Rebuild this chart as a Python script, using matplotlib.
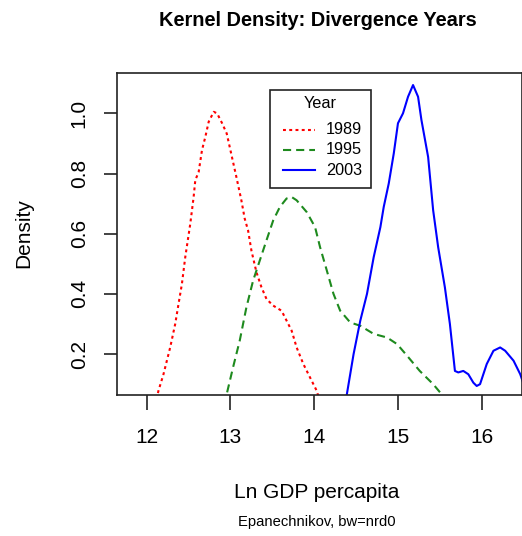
import matplotlib
matplotlib.use("Agg")
import matplotlib.pyplot as plt
from matplotlib.lines import Line2D
from matplotlib.patches import Rectangle

plt.rcParams['font.family'] = ['Liberation Sans', 'DejaVu Sans']

# Kernel density estimates of ln GDP per capita for three years
years = ["1989", "1995", "2003"]

x_1989 = [12.10, 12.14, 12.20, 12.28, 12.34, 12.38, 12.42, 12.46, 12.52, 12.56,
          12.58, 12.62, 12.66, 12.70, 12.74, 12.80, 12.84, 12.90, 12.955, 12.995,
          13.07, 13.13, 13.17, 13.21, 13.25, 13.31, 13.37, 13.43, 13.51, 13.61,
          13.67, 13.73, 13.79, 13.87, 13.97, 14.03, 14.07]
y_1989 = [0.03, 0.078, 0.133, 0.222, 0.30, 0.367, 0.433, 0.522, 0.633, 0.722,
          0.778, 0.805, 0.878, 0.922, 0.972, 1.005, 1.0, 0.967, 0.933, 0.883,
          0.789, 0.711, 0.65, 0.611, 0.544, 0.472, 0.422, 0.383, 0.361, 0.344,
          0.311, 0.278, 0.222, 0.167, 0.111, 0.078, 0.04]

x_1995 = [12.93, 12.955, 13.03, 13.11, 13.19, 13.27, 13.35, 13.43, 13.51, 13.59,
          13.67, 13.73, 13.79, 13.91, 14.01, 14.07, 14.15, 14.23, 14.31, 14.43,
          14.55, 14.71, 14.87, 14.99, 15.11, 15.26, 15.42, 15.52, 15.56]
y_1995 = [0.03, 0.067, 0.155, 0.244, 0.355, 0.444, 0.511, 0.578, 0.644, 0.689,
          0.717, 0.722, 0.711, 0.672, 0.622, 0.555, 0.478, 0.40, 0.344, 0.305,
          0.294, 0.267, 0.255, 0.233, 0.194, 0.144, 0.10, 0.067, 0.04]

x_2003 = [14.37, 14.39, 14.47, 14.55, 14.63, 14.71, 14.79, 14.83, 14.89, 14.95,
          15.00, 15.02, 15.06, 15.12, 15.18, 15.24, 15.28, 15.36, 15.42, 15.48,
          15.56, 15.62, 15.68, 15.72, 15.78, 15.84, 15.90, 15.94, 15.98, 16.06,
          16.14, 16.22, 16.28, 16.38, 16.46, 16.50]
y_2003 = [0.03, 0.067, 0.20, 0.311, 0.40, 0.522, 0.622, 0.689, 0.767, 0.867,
          0.967, 0.978, 1.0, 1.055, 1.094, 1.055, 0.978, 0.855, 0.678, 0.555,
          0.422, 0.30, 0.144, 0.139, 0.144, 0.133, 0.105, 0.094, 0.10, 0.167,
          0.211, 0.222, 0.211, 0.178, 0.133, 0.10]

x_ticks = [12, 13, 14, 15, 16]
y_ticks = [0.2, 0.4, 0.6, 0.8, 1.0]

styles = [
    dict(color="#FF0000", linestyle=(0, (1.4, 1.6)), linewidth=1.5),
    dict(color="#1E8A1E", linestyle=(0, (3.9, 2.4)), linewidth=1.5),
    dict(color="#0000FF", linestyle="-", linewidth=1.5),
]

W, H = 522, 536
fig = plt.figure(figsize=(W / 100, H / 100), dpi=100)
ax = fig.add_axes([117 / W, 1 - 395 / H, (521.5 - 117) / W, (395 - 73) / H])

for xs, ys, st in zip([x_1989, x_1995, x_2003], [y_1989, y_1995, y_2003], styles):
    ax.plot(xs, ys, **st)

ax.set_xlim(11.645, 16.475)
ax.set_ylim(0.064, 1.134)
ax.set_xticks(x_ticks)
ax.set_xticklabels([str(t) for t in x_ticks])
ax.set_yticks(y_ticks)
ax.set_yticklabels([f"{t:.1f}" for t in y_ticks], rotation=90, va="center")

for s in ax.spines.values():
    s.set_linewidth(1.2)
    s.set_color("#222222")
ax.tick_params(axis="x", length=10.8, width=1.2, color="#222222", pad=13, labelsize=15)
ax.tick_params(axis="y", length=9.4, width=1.2, color="#222222", pad=11, labelsize=15)

fig.text(318 / W, 1 - 21 / H, "Kernel Density: Divergence Years",
         ha="center", va="center", fontsize=14.4, fontweight="bold")
fig.text(317 / W, 1 - 492 / H, "Ln GDP percapita", ha="center", va="center", fontsize=15)
fig.text(317 / W, 1 - 522 / H, "Epanechnikov, bw=nrd0", ha="center", va="center", fontsize=10.6)
fig.text(24 / W, 1 - 233 / H, "Density", ha="center", va="center", fontsize=15, rotation=90)

# legend box drawn in figure pixel space
px = fig.transFigure
def fx(v):
    return v / W
def fy(v):
    return 1 - v / H

fig.patches.append(Rectangle((fx(269.5), fy(187.5)), fx(371) - fx(269.5), fy(90) - fy(187.5),
                             transform=px, fill=True, facecolor="white",
                             edgecolor="#222222", linewidth=1.2, zorder=5))
fig.text(fx(320), fy(103), "Year", ha="center", va="center", fontsize=11.7, zorder=6)
for i, (yr, st) in enumerate(zip(years, styles)):
    yy = 130 + 20 * i
    fig.lines.append(Line2D([fx(283), fx(315)], [fy(yy), fy(yy)], transform=px, zorder=6, **st))
    fig.text(fx(362), fy(yy), yr, ha="right", va="center", fontsize=11.7, zorder=6)

fig.savefig("out.png", dpi=100)
